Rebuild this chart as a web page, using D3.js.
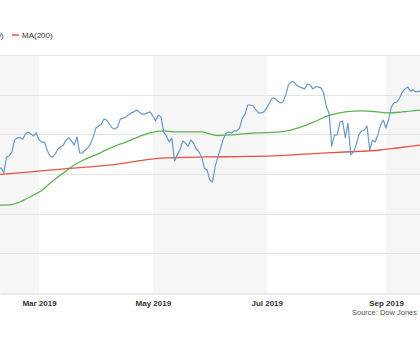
<!DOCTYPE html>
<html>
<head>
<meta charset="utf-8">
<script src="https://cdn.jsdelivr.net/npm/d3@7"></script>
<style>
  html, body { margin: 0; padding: 0; background: #fff; }
  svg { display: block; font-family: "Liberation Sans", Arial, sans-serif; }
</style>
</head>
<body>
<svg id="chart" width="420" height="350"></svg>
<script>
// ---------- DATA ----------
// Trading calendar (NYSE 2019), first session shown and market holidays
const firstSession = "2019-02-07";
const holidays = ["2019-02-18", "2019-04-19", "2019-05-27", "2019-07-04", "2019-09-02"];

// Dow Jones Industrial Average, daily close, one value per trading session from firstSession
const djiaClose = [
  25150, 25150, 25025, 25430, 25455, 25555, 25860, 25910, 25920, 25880,
  26010, 26060, 26010, 25960, 26035, 25860, 25805, 25805, 25605, 25455,
  25430, 25505, 25630, 25680, 25730, 25860, 25910, 25830, 25730, 25935,
  25530, 25530, 25605, 25655, 25755, 25935, 26160, 26210, 26260, 26385,
  26360, 26260, 26160, 26135, 26185, 26385, 26410, 26435, 26485, 26540,
  26565, 26615, 26565, 26510, 26510, 26540, 26565, 26460, 26335, 26485,
  26435, 26060, 25960, 25805, 25910, 25330, 25480, 25605, 25830, 25780,
  25705, 25860, 25780, 25630, 25555, 25430, 25150, 25100, 24850, 24800,
  25200, 25430, 25655, 25880, 26035, 26060, 26035, 26085, 26085, 26160,
  26410, 26510, 26740, 26740, 26715, 26615, 26540, 26540, 26565, 26665,
  26790, 26915, 26915, 26840, 26790, 26815, 26990, 27245, 27320, 27320,
  27245, 27195, 27170, 27145, 27270, 27245, 27145, 27195, 27195, 27170,
  27040, 26690, 26540, 25705, 25985, 25985, 26310, 26335, 25910, 26285,
  25480, 25555, 25730, 25985, 26085, 26110, 26210, 25605, 25855, 25805,
  25985, 26235, 26360, 26160, 26385, 26690, 26790, 26815, 26915, 27065,
  27145, 27195, 27090, 27120, 27065, 27090, 27065
];

// 50-day moving average
const ma50Dates = ["2019-02-07","2019-02-14","2019-02-19","2019-02-21","2019-02-27","2019-03-04","2019-03-07",
  "2019-03-12","2019-03-15","2019-03-20","2019-03-25","2019-04-02","2019-04-09","2019-04-16","2019-04-24",
  "2019-04-30","2019-05-07","2019-05-13","2019-05-21","2019-05-28","2019-05-31","2019-06-05","2019-06-11",
  "2019-06-18","2019-06-25","2019-07-09","2019-07-17","2019-07-25","2019-08-02","2019-08-12","2019-08-20",
  "2019-08-28","2019-09-04","2019-09-11","2019-09-20"];
const ma50Values = [24215, 24230, 24270, 24330, 24470, 24585, 24760,
  24925, 25075, 25225, 25340, 25515, 25680, 25805, 25945,
  26035, 26085, 26060, 26060, 26060, 26010, 25970, 25985,
  26010, 26035, 26060, 26150, 26300, 26475, 26565, 26590,
  26565, 26540, 26565, 26615];

// 200-day moving average
const ma200Dates = ["2019-02-07","2019-02-27","2019-03-07","2019-03-18","2019-04-02","2019-04-11","2019-04-24",
  "2019-05-06","2019-05-30","2019-06-17","2019-07-09","2019-07-25","2019-08-12","2019-08-29","2019-09-09","2019-09-20"];
const ma200Values = [24985, 25060, 25100, 25140, 25200, 25250, 25335,
  25400, 25430, 25440, 25465, 25515, 25555, 25605, 25655, 25730];

// Axis ticks (every two months, first session of the month)
const tickDates  = ["2019-01-02", "2019-03-01", "2019-05-01", "2019-07-01", "2019-09-03", "2019-11-01"];
const tickLabels = ["Jan 2019", "Mar 2019", "May 2019", "Jul 2019", "Sep 2019", "Nov 2019"];
const yTicks = [22000, 23000, 24000, 25000, 26000, 27000, 28000];

const legendItems = [
  { label: "MA(50)",  color: "#5ab24f" },
  { label: "MA(200)", color: "#e8543f" }
];
const sourceText = "Source: Dow Jones";

// ---------- TRADING-DAY (ordinal) AXIS ----------
function buildSessions(start, n, hol) {
  const out = [];
  const d = new Date(start + "T00:00:00Z");
  while (out.length < n) {
    const s = d.toISOString().slice(0, 10);
    const wd = d.getUTCDay();
    if (wd !== 0 && wd !== 6 && !hol.includes(s)) out.push(s);
    d.setUTCDate(d.getUTCDate() + 1);
  }
  return out;
}
const sessions = buildSessions(firstSession, djiaClose.length, holidays);
const sessionIndex = new Map(sessions.map((s, i) => [s, i]));
function idx(dateStr) {
  if (sessionIndex.has(dateStr)) return sessionIndex.get(dateStr);
  const t = new Date(dateStr + "T00:00:00Z"), t0 = new Date(firstSession + "T00:00:00Z");
  return Math.round((t - t0) / 864e5 * 5 / 7);
}

// ---------- LAYOUT ----------
const plot = { left: 0, right: 420, top: 55, bottom: 293 };
const svg = d3.select("#chart");

const x = d3.scaleLinear().domain([0.61, 155.55]).range([plot.left, plot.right]);
const y = d3.scaleLinear().domain([22000, 28000]).range([plot.bottom, plot.top]);

// alternate bands between ticks
const tickIdx = tickDates.map(idx);
const bands = svg.append("g");
for (let i = 0; i < tickIdx.length - 1; i += 2) {
  const x0 = Math.max(plot.left, x(tickIdx[i]));
  const x1 = Math.min(plot.right, x(tickIdx[i + 1]));
  if (x1 > x0) {
    bands.append("rect").attr("x", x0).attr("y", plot.top)
      .attr("width", x1 - x0).attr("height", plot.bottom - plot.top)
      .attr("fill", "#f6f6f6");
  }
}

// horizontal grid
svg.append("g").selectAll("line").data(yTicks.slice(1)).join("line")
  .attr("x1", plot.left).attr("x2", plot.right)
  .attr("y1", d => Math.round(y(d)) + 0.5).attr("y2", d => Math.round(y(d)) + 0.5)
  .attr("stroke", "#e4e4e4").attr("stroke-width", 1);

// x axis: only ticks whose label fits in the visible window
const visibleTicks = tickIdx.map((t, i) => ({ t, label: tickLabels[i] }))
  .filter(d => x(d.t) > plot.left + 18 && x(d.t) < plot.right - 18);
const xAxis = d3.axisBottom(x)
  .tickValues(visibleTicks.map(d => d.t))
  .tickFormat((d, i) => visibleTicks[i].label)
  .tickSize(0).tickPadding(7);
const gx = svg.append("g").attr("transform", `translate(0,${Math.round(y(22000)) + 0.5})`).call(xAxis);
gx.select(".domain").attr("stroke", "#d6d6d6");
gx.selectAll("text").attr("fill", "#333").attr("font-size", 8).attr("font-weight", "bold")
  .attr("font-family", "Liberation Sans, Arial, sans-serif");

// lines
svg.append("clipPath").attr("id", "clip").append("rect")
  .attr("x", plot.left).attr("y", 0).attr("width", plot.right - plot.left).attr("height", plot.bottom);
const lines = svg.append("g").attr("clip-path", "url(#clip)");

const ma200 = ma200Dates.map((d, i) => [idx(d), ma200Values[i]]);
const ma50 = ma50Dates.map((d, i) => [idx(d), ma50Values[i]]);
const price = djiaClose.map((v, i) => [i, v]);

const smooth = d3.line().x(d => x(d[0])).y(d => y(d[1])).curve(d3.curveMonotoneX);
const straight = d3.line().x(d => x(d[0])).y(d => y(d[1]));

lines.append("path").datum(ma200).attr("d", smooth)
  .attr("fill", "none").attr("stroke", legendItems[1].color).attr("stroke-width", 1.3);
lines.append("path").datum(ma50).attr("d", smooth)
  .attr("fill", "none").attr("stroke", legendItems[0].color).attr("stroke-width", 1.3);
lines.append("path").datum(price).attr("d", straight)
  .attr("fill", "none").attr("stroke", "#6b98c6").attr("stroke-width", 1.2)
  .attr("stroke-linejoin", "round");

// legend (partly outside the visible area on the left, as in the reference crop)
const lg = svg.append("g").attr("font-size", 8).attr("fill", "#333");
lg.append("line").attr("x1", -30).attr("x2", -23).attr("y1", 35).attr("y2", 35)
  .attr("stroke", legendItems[0].color).attr("stroke-width", 1.5);
lg.append("text").attr("x", 3.5).attr("y", 38).attr("text-anchor", "end").text(legendItems[0].label);
lg.append("line").attr("x1", 12).attr("x2", 19).attr("y1", 35).attr("y2", 35)
  .attr("stroke", legendItems[1].color).attr("stroke-width", 1.5);
lg.append("text").attr("x", 22).attr("y", 38).text(legendItems[1].label);

// source
svg.append("text").attr("x", 417).attr("y", 315).attr("text-anchor", "end")
  .attr("font-size", 7.5).attr("fill", "#555").text(sourceText);
</script>
</body>
</html>
